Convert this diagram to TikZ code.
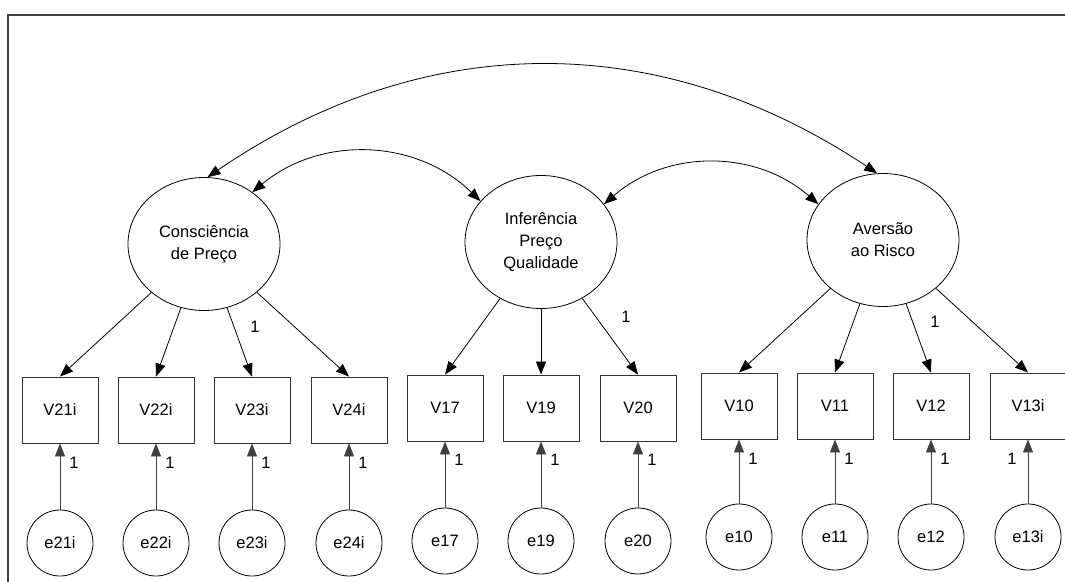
\documentclass[tikz,border=0pt]{standalone}
\usepackage{fontspec}
\setmainfont{Liberation Sans}
\usetikzlibrary{arrows.meta,shapes.geometric}
\begin{document}
\begin{tikzpicture}[x=1pt,y=1pt,
  font=\fontsize{16.5}{22}\selectfont,
  tip/.tip={Triangle[length=13pt,width=10pt]},
  latent/.style={draw, ellipse, minimum width=152pt, minimum height=133pt,
    inner sep=0pt, align=center, line width=0.8pt},
  obs/.style={draw=black!80, minimum width=76pt, minimum height=66pt,
    inner sep=0pt, line width=0.9pt},
  err/.style={draw, circle, minimum size=66pt, inner sep=0pt, line width=0.8pt},
  load/.style={-tip, line width=0.8pt},
  errarrow/.style={-tip, line width=0.9pt, draw=black!75},
  cov/.style={tip-tip, line width=0.8pt},
  frame/.style={draw=black!75, line width=2.4pt},
  lbl/.style={inner sep=0pt}]

\useasboundingbox (0,0) rectangle (1065,-581);

% outer frame
\draw[frame] (8,-590) -- (8,-15) -- (1075,-15);

% latent factors
\node[latent] (consc) at (204,-244) {Consciência\\de Preço};
\node[latent] (infer) at (541,-242) {Inferência\\Preço\\Qualidade};
\node[latent] (avers) at (883,-240) {Aversão\\ao Risco};

% observed indicators
\node[obs] (v21) at (60,-410)  {V21i};
\node[obs] (v22) at (156,-410) {V22i};
\node[obs] (v23) at (252,-410) {V23i};
\node[obs] (v24) at (349,-410) {V24i};
\node[obs] (v17) at (445,-408) {V17};
\node[obs] (v19) at (541,-408) {V19};
\node[obs] (v20) at (638,-408) {V20};
\node[obs] (v10) at (739,-406) {V10};
\node[obs] (v11) at (835,-406) {V11};
\node[obs] (v12) at (931,-406) {V12};
\node[obs] (v13) at (1028,-406) {V13i};

% error terms
\node[err] (e21) at (60,-543)  {e21i};
\node[err] (e22) at (156,-543) {e22i};
\node[err] (e23) at (252,-543) {e23i};
\node[err] (e24) at (349,-543) {e24i};
\node[err] (e17) at (445,-541) {e17};
\node[err] (e19) at (541,-541) {e19};
\node[err] (e20) at (638,-541) {e20};
\node[err] (e10) at (739,-537) {e10};
\node[err] (e11) at (835,-537) {e11};
\node[err] (e12) at (931,-537) {e12};
\node[err] (e13) at (1028,-537) {e13i};

% factor loadings
\foreach \v in {v21,v22,v23,v24} \draw[load] (consc) -- (\v.north);
\foreach \v in {v17,v19,v20} \draw[load] (infer) -- (\v.north);
\foreach \v in {v10,v11,v12,v13} \draw[load] (avers) -- (\v.north);

% error paths
\foreach \e/\v in {e21/v21,e22/v22,e23/v23,e24/v24,e17/v17,e19/v19,e20/v20,e10/v10,e11/v11,e12/v12,e13/v13}
  \draw[errarrow] (\e.north) -- (\v.south);

% covariances between factors
\draw[cov] (consc.87) to[bend left=34] (avers.95);
\draw[cov] (consc.47) to[bend left=42] (infer.146);
\draw[cov] (infer.31) to[bend left=41] (avers.151);

% fixed parameters
\node[lbl] (f23) at (255,-327) {1};
\node[lbl] (f20) at (626,-317) {1};
\node[lbl] (f12) at (935,-322) {1};

\node[lbl] (r21) at (74,-463)  {1};
\node[lbl] (r22) at (170,-463) {1};
\node[lbl] (r23) at (266,-463) {1};
\node[lbl] (r24) at (363,-463) {1};
\node[lbl] (r17) at (459,-460) {1};
\node[lbl] (r19) at (555,-460) {1};
\node[lbl] (r20) at (652,-460) {1};
\node[lbl] (r10) at (753,-459) {1};
\node[lbl] (r11) at (849,-459) {1};
\node[lbl] (r12) at (945,-459) {1};
\node[lbl] (r13) at (1012,-459) {1};

\end{tikzpicture}
\end{document}
